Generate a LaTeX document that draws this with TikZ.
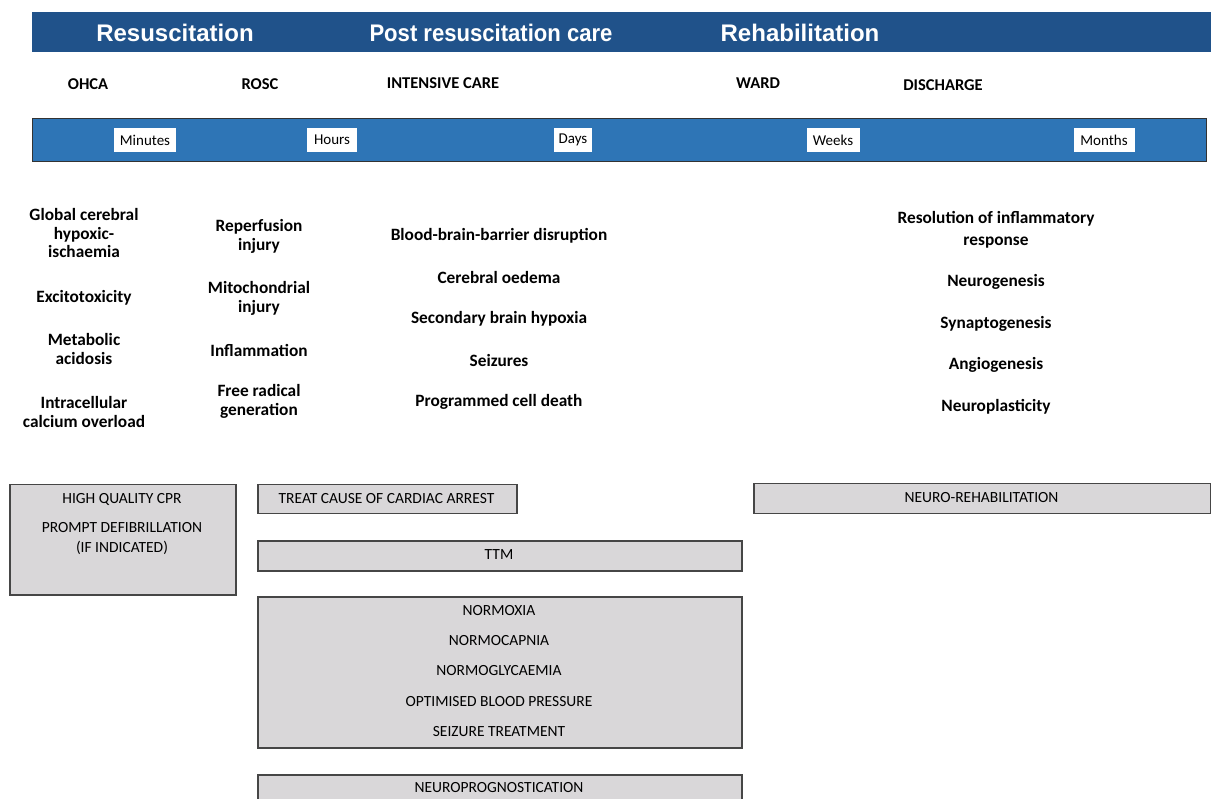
\documentclass[tikz,border=0pt]{standalone}
\usepackage{fontspec}
\usepackage{graphicx}
\setmainfont{Carlito}
\newfontfamily\headfont{Liberation Sans}
\definecolor{topblue}{RGB}{32,82,138}
\definecolor{bandblue}{RGB}{46,117,182}
\definecolor{boxgray}{RGB}{217,215,217}
\definecolor{boxline}{RGB}{70,70,70}
\begin{document}
\begin{tikzpicture}[x=1pt,y=-1pt,
  head/.style={font=\headfont\bfseries\fontsize{24}{26}\selectfont, text=white, inner sep=0pt},
  stage/.style={font=\bfseries\fontsize{16.5}{18}\selectfont, inner sep=0pt},
  tlabel/.style={fill=white, font=\fontsize{15}{16}\selectfont, minimum height=24pt, inner sep=0pt},
  mech/.style={font=\bfseries\fontsize{17.3}{18.8}\selectfont, align=center, inner sep=0pt},
  tbox/.style={draw=boxline, fill=boxgray, line width=1.5pt, anchor=north west, inner sep=0pt},
  btext/.style={font=\fontsize{15.5}{17}\selectfont, inner sep=0pt}
]
\clip (0,0) rectangle (1211,799);
\fill[white] (0,0) rectangle (1211,799);

% top header band
\node[fill=topblue, anchor=north west, minimum width=1185pt, minimum height=40pt, inner sep=0pt] (topband) at (32,12) {};
\node[head] (hres) at (175,33) {Resuscitation};
\node[head] (hpost) at (491,33) {\scalebox{0.92}[1]{Post resuscitation care}};
\node[head] (hrehab) at (800,33) {Rehabilitation};

% stages
\node[stage] (ohca) at (88,84) {OHCA};
\node[stage] (rosc) at (260,84) {ROSC};
\node[stage] (icu) at (443,83) {INTENSIVE CARE};
\node[stage] (ward) at (758,83) {WARD};
\node[stage] (disch) at (943,85) {DISCHARGE};

% timeline band
\node[fill=bandblue, draw=black!80, line width=1pt, anchor=north west, minimum width=1174pt, minimum height=43pt, inner sep=0pt] (timeband) at (32,118) {};
\node[tlabel, minimum width=62pt] (tmin) at (145,140) {Minutes};
\node[tlabel, minimum width=50pt] (thr) at (332,140) {Hours};
\node[tlabel, minimum width=38pt] (tday) at (573,140) {Days};
\node[tlabel, minimum width=53pt] (twk) at (833,140) {Weeks};
\node[tlabel, minimum width=61pt] (tmon) at (1104,140) {Months};

% column 1
\node[mech] (c1a) at (84,233) {Global cerebral\\hypoxic-\\ischaemia};
\node[mech] (c1b) at (84,298) {Excitotoxicity};
\node[mech] (c1c) at (84,349) {Metabolic\\acidosis};
\node[mech] (c1d) at (84,412) {Intracellular\\calcium overload};

% column 2
\node[mech] (c2a) at (259,236) {Reperfusion\\injury};
\node[mech] (c2b) at (259,298) {Mitochondrial\\injury};
\node[mech] (c2c) at (259,350) {Inflammation};
\node[mech] (c2d) at (259,401) {Free radical\\generation};

% column 3
\node[mech] (c3a) at (499,236) {Blood-brain-barrier disruption};
\node[mech] (c3b) at (499,277) {Cerebral oedema};
\node[mech] (c3c) at (499,319) {Secondary brain hypoxia};
\node[mech] (c3d) at (499,360) {Seizures};
\node[mech] (c3e) at (499,402) {Programmed cell death};

% column 4
\node[mech, font=\bfseries\fontsize{17.3}{21.5}\selectfont] (c4a) at (996,230) {Resolution of inflammatory\\response};
\node[mech] (c4b) at (996,282) {Neurogenesis};
\node[mech] (c4c) at (996,324) {Synaptogenesis};
\node[mech] (c4d) at (996,365) {Angiogenesis};
\node[mech] (c4e) at (996,407) {Neuroplasticity};

% boxes
\node[tbox, minimum width=226pt, minimum height=110pt] (cprbox) at (9,484) {};
\node[btext] (cpr1) at (122,499) {HIGH QUALITY CPR};
\node[btext] (cpr2) at (122,528) {PROMPT DEFIBRILLATION};
\node[btext] (cpr3) at (122,548) {(IF INDICATED)};

\node[tbox, minimum width=259pt, minimum height=29pt] (treatbox) at (257,484) {};
\node[btext] (treat) at (386.5,499) {TREAT CAUSE OF CARDIAC ARREST};

\node[tbox, minimum width=484pt, minimum height=30pt] (ttmbox) at (257,540) {};
\node[btext] (ttm) at (499,555) {TTM};

\node[tbox, minimum width=484pt, minimum height=151pt] (normbox) at (257,596) {};
\node[btext] (n1) at (499,611) {NORMOXIA};
\node[btext] (n2) at (499,641) {NORMOCAPNIA};
\node[btext] (n3) at (499,671) {NORMOGLYCAEMIA};
\node[btext] (n4) at (499,702) {OPTIMISED BLOOD PRESSURE};
\node[btext] (n5) at (499,732) {SEIZURE TREATMENT};

\node[tbox, minimum width=484pt, minimum height=60pt] (progbox) at (257,774) {};
\node[btext] (prog) at (499,788) {NEUROPROGNOSTICATION};

\node[tbox, minimum width=457pt, minimum height=30pt] (rehabbox) at (753,483) {};
\node[btext] (rehab) at (981.5,498) {NEURO-REHABILITATION};
\end{tikzpicture}
\end{document}
